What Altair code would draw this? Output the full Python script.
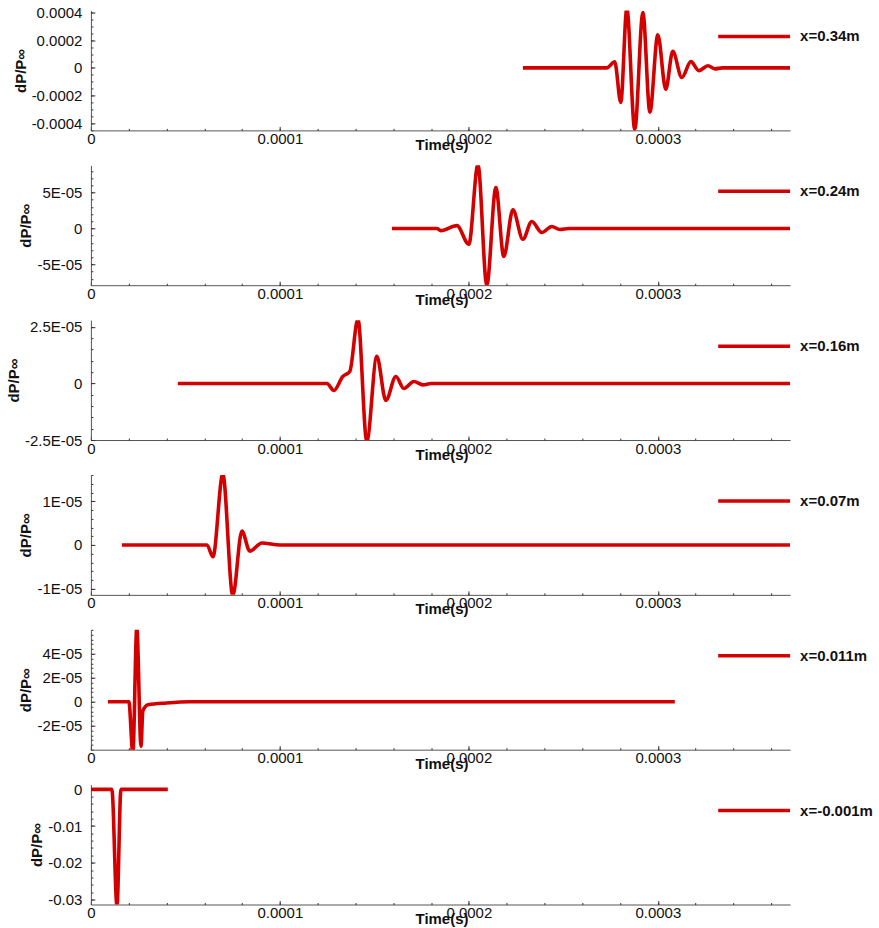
import altair as alt
import pandas as pd

# ---------------- data ----------------
# time in seconds, dP/Pinf values
T_034 = [2.286e-4, 2.730e-4, 2.772e-4, 2.804e-4, 2.836e-4, 2.878e-4, 2.921e-4, 2.958e-4,
         3.000e-4, 3.042e-4, 3.079e-4, 3.127e-4, 3.175e-4, 3.217e-4, 3.265e-4, 3.302e-4,
         3.340e-4, 3.700e-4]
P_034 = [0, 0, 0.44e-4, -2.5e-4, 4.3e-4, -4.45e-4, 4.0e-4, -3.2e-4,
         2.4e-4, -1.55e-4, 1.2e-4, -0.7e-4, 0.45e-4, -0.2e-4, 0.15e-4, -0.07e-4,
         0, 0]

T_024 = [1.593e-4, 1.831e-4, 1.852e-4, 1.937e-4, 2.000e-4, 2.048e-4, 2.095e-4, 2.143e-4,
         2.185e-4, 2.233e-4, 2.286e-4, 2.333e-4, 2.386e-4, 2.439e-4, 2.481e-4, 2.530e-4,
         3.700e-4]
P_024 = [0, 0, -0.3e-5, 0.4e-5, -2.2e-5, 8.9e-5, -7.9e-5, 5.7e-5,
         -3.9e-5, 2.6e-5, -1.5e-5, 0.97e-5, -0.55e-5, 0.28e-5, -0.14e-5, 0,
         0]

T_016 = [0.460e-4, 1.249e-4, 1.286e-4, 1.333e-4, 1.370e-4, 1.413e-4, 1.460e-4, 1.513e-4,
         1.561e-4, 1.614e-4, 1.656e-4, 1.709e-4, 1.757e-4, 1.800e-4, 3.700e-4]
P_016 = [0, 0, -0.31e-5, 0.31e-5, 0.53e-5, 2.85e-5, -2.55e-5, 1.2e-5,
         -0.75e-5, 0.31e-5, -0.22e-5, 0.09e-5, -0.06e-5, 0, 0]

T_007 = [0.164e-4, 0.614e-4, 0.646e-4, 0.698e-4, 0.751e-4, 0.799e-4, 0.841e-4, 0.905e-4,
         1.000e-4, 3.700e-4]
P_007 = [0, 0, -0.27e-5, 1.62e-5, -1.16e-5, 0.32e-5, -0.14e-5, 0.045e-5,
         0, 0]

T_0011 = [0.090e-4, 0.201e-4, 0.222e-4, 0.243e-4, 0.265e-4, 0.275e-4, 0.302e-4, 0.400e-4,
          0.524e-4, 3.090e-4]
P_0011 = [0, 0, -4.3e-5, 6.2e-5, -3.7e-5, -0.75e-5, -0.25e-5, -0.1e-5,
          0, 0]

T_m0001 = [0.0, 0.111e-4, 0.138e-4, 0.159e-4, 0.407e-4]
P_m0001 = [0, 0, -0.0318, 0, 0]

PROBES = ["x=0.34m", "x=0.24m", "x=0.16m", "x=0.07m", "x=0.011m", "x=-0.001m"]
TIMES = [T_034, T_024, T_016, T_007, T_0011, T_m0001]
VALUES = [P_034, P_024, P_016, P_007, P_0011, P_m0001]

Y_DOMAINS = [[-0.000452, 0.000415], [-7.9e-5, 8.8e-5], [-2.5e-5, 2.8e-5],
             [-1.14e-5, 1.6e-5], [-4.0e-5, 6.0e-5], [-0.0314, 0.0013]]
Y_TICKS = [[-0.0004, -0.0002, 0, 0.0002, 0.0004], [-5e-5, 0, 5e-5], [-2.5e-5, 0, 2.5e-5],
           [-1e-5, 0, 1e-5], [-2e-5, 0, 2e-5, 4e-5], [-0.03, -0.02, -0.01, 0]]
Y_TICK_LABELS = [["-0.0004", "-0.0002", "0", "0.0002", "0.0004"],
                 ["-5E-05", "0", "5E-05"],
                 ["-2.5E-05", "0", "2.5E-05"],
                 ["-1E-05", "0", "1E-05"],
                 ["-2E-05", "0", "2E-05", "4E-05"],
                 ["-0.03", "-0.02", "-0.01", "0"]]
Y_MINOR_STEP = [5e-5, 1e-5, 5e-6, 2e-6, 4e-6, 0.002]

X_MAX = 3.70e-4
X_TICKS = [0, 0.0001, 0.0002, 0.0003]
X_TICK_LABELS = ["0", "0.0001", "0.0002", "0.0003"]
X_MINOR_STEP = 2e-5

RED = "#d40000"
FONT = "Liberation Sans"
W, H = 700, 120


def label_expr(values, labels, eps):
    parts = [f"abs(datum.value - ({v!r})) < {eps!r} ? '{l}'" for v, l in zip(values, labels)]
    return " : ".join(parts) + " : ''"


def minor_values(lo, hi, step):
    n0 = int(lo // step) - 1
    n1 = int(hi // step) + 2
    return [round(i * step, 12) for i in range(n0, n1) if lo - 1e-15 <= i * step <= hi + 1e-15]


def panel(i):
    df = pd.DataFrame({"t": TIMES[i], "p": VALUES[i], "probe": PROBES[i]})
    dom = Y_DOMAINS[i]
    xs = alt.Scale(domain=[0, X_MAX], nice=False, zero=False)
    ys = alt.Scale(domain=dom, nice=False, zero=False)
    x_minor = minor_values(0, X_MAX, X_MINOR_STEP)
    y_minor = minor_values(dom[0], dom[1], Y_MINOR_STEP[i])
    base = alt.Chart(df)

    line = base.mark_line(strokeWidth=3.6, interpolate="monotone", clip=True).encode(
        x=alt.X("t:Q", scale=xs, axis=alt.Axis(
            orient="bottom", values=X_TICKS,
            labelExpr=label_expr(X_TICKS, X_TICK_LABELS, 1e-7),
            title="Time(s)", titleX=351, titleY=7, titleBaseline="top", titleAlign="center",
            tickSize=0, labelPadding=1, labelFlush=False, labelOverlap=False)),
        y=alt.Y("p:Q", scale=ys, axis=alt.Axis(
            orient="left", values=Y_TICKS[i],
            labelExpr=label_expr(Y_TICKS[i], Y_TICK_LABELS[i], Y_MINOR_STEP[i] * 0.1),
            title="dP/P∞", titlePadding=3,
            tickSize=0, labelPadding=9, labelFlush=False, labelOverlap=False)),
        color=alt.Color("probe:N", scale=alt.Scale(range=[RED]), legend=alt.Legend(
            orient="none", legendX=626, legendY=18, title="",
            symbolType="stroke", symbolSize=5184, symbolStrokeWidth=3.5, clipHeight=16,
            labelFont=FONT, labelFontWeight="bold", labelFontSize=15, labelColor="#111",
            labelOffset=8, padding=0)),
    )

    minor = base.mark_line(strokeOpacity=0).encode(
        x=alt.X("t:Q", scale=xs, axis=alt.Axis(
            orient="top", offset=-H, values=x_minor, tickSize=2, labels=False,
            domain=False, title="")),
        y=alt.Y("p:Q", scale=ys, axis=alt.Axis(
            orient="right", offset=-W, values=y_minor, tickSize=2, labels=False,
            domain=False, title="")),
    )
    major = base.mark_line(strokeOpacity=0).encode(
        x=alt.X("t:Q", scale=xs, axis=alt.Axis(
            orient="top", offset=-H, values=X_TICKS, tickSize=4, labels=False,
            domain=False, title="")),
        y=alt.Y("p:Q", scale=ys, axis=alt.Axis(
            orient="right", offset=-W, values=Y_TICKS[i], tickSize=4, labels=False,
            domain=False, title="")),
    )
    return alt.layer(line, minor, major).resolve_axis(
        x="independent", y="independent").properties(width=W, height=H)


chart = alt.vconcat(*[panel(i) for i in range(6)], spacing=35).properties(
    bounds="flush",
    padding={"left": 5, "top": 4, "right": 5, "bottom": 5},
    background="white",
).resolve_scale(color="independent").configure(
    font=FONT,
).configure_axis(
    labelFont=FONT, labelFontSize=15, labelColor="#111",
    titleFont=FONT, titleFontSize=15, titleFontWeight="bold", titleColor="#111",
    domainColor="#555", domainWidth=1, tickColor="#333", tickWidth=1, grid=False,
).configure_view(stroke="transparent")

chart.save("out.html", embed_options={"renderer": "svg", "actions": False})
